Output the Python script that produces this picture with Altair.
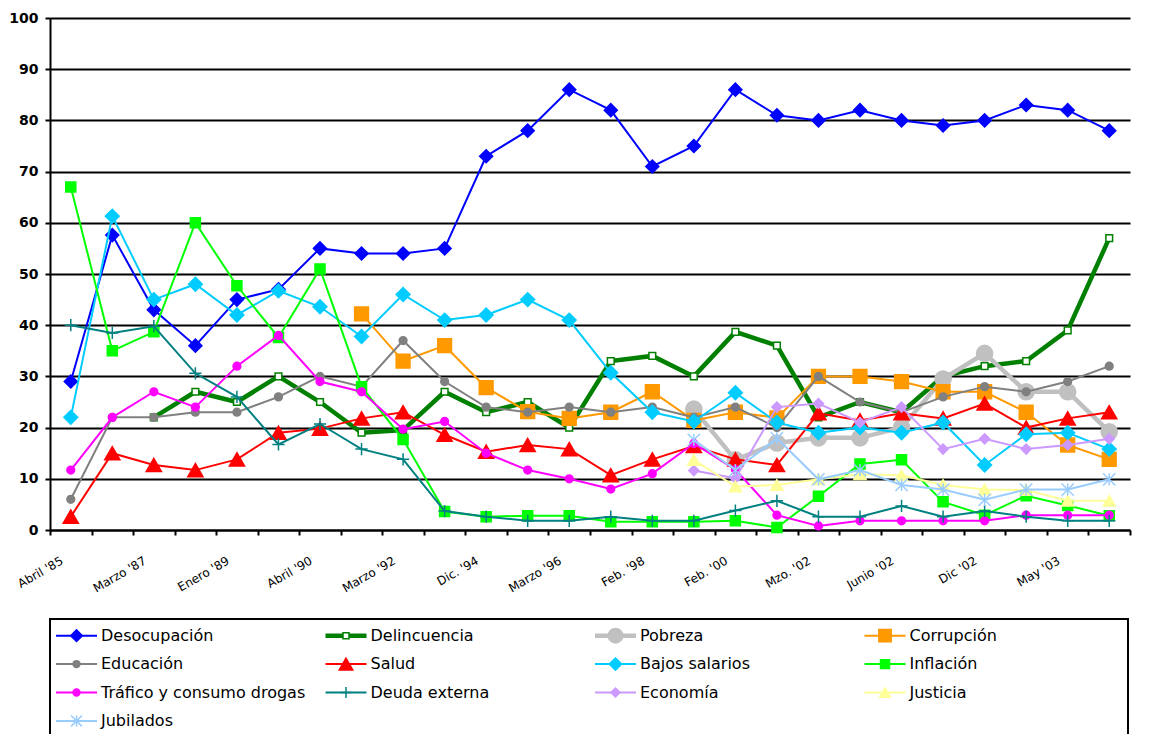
import json
import altair as alt
import pandas as pd

# ---------------- data ----------------
n_surveys = 26
# labels shown under every second survey
period_labels = ["Abril '85", "Marzo '87", "Enero '89", "Abril '90", "Marzo '92",
                 "Dic. '94", "Marzo '96", "Feb. '98", "Feb. '00", "Mzo. '02",
                 "Junio '02", "Dic '02", "May '03"]

series_names = ["Desocupación", "Delincuencia", "Pobreza", "Corrupción",
                "Educación", "Salud", "Bajos salarios", "Inflación",
                "Tráfico y consumo drogas", "Deuda externa", "Economía",
                "Justicia", "Jubilados"]

N = None
desocupacion = [29, 57.6, 43, 36, 45, 47, 55, 54, 54, 55, 73, 78, 86, 82, 71, 75,
                86, 81, 80, 82, 80, 79, 80, 83, 82, 78]
delincuencia = [N, N, 22, 27, 25, 30, 25, 19, 19.5, 27, 23, 25, 20, 33, 34, 30,
                38.7, 36, 22, 25, 23, 30, 32, 33, 39, 57]
pobreza = [N] * 15 + [23.6, 13.7, 17, 18, 18, 20, 29.5, 34.5, 27, 27, 19.2]
corrupcion = [N] * 7 + [42.2, 33, 36, 27.8, 23.1, 21.8, 23, 27, 21.4, 23, 21.9,
                        30, 30, 29, 27, 27, 23, 16.6, 13.8]
educacion = [6, 22, 22, 23, 23, 26, 30, 28, 37, 29, 24, 23, 24, 23, 24, 22, 24,
             20, 30, 25, 23, 26, 28, 27, 29, 32]
salud = [2.6, 15, 12.7, 11.7, 13.8, 19, 19.8, 21.8, 23, 18.6, 15.3, 16.6, 15.8,
         10.7, 13.8, 16.4, 13.8, 12.7, 22.8, 21.4, 22.8, 21.8, 24.7, 20, 21.8, 23]
bajos_salarios = [22, 61.3, 45, 48, 42, 46.7, 43.6, 37.8, 46, 41, 42, 45, 41, 30.7,
                  23, 21.2, 26.8, 21, 19, 20, 19, 21, 12.7, 18.7, 19, 15.8]
inflacion = [67, 35, 38.7, 60, 47.7, 37.6, 51, 28, 17.7, 3.6, 2.6, 2.8, 2.8, 1.6,
             1.6, 1.6, 1.8, 0.5, 6.6, 12.9, 13.7, 5.5, 2.9, 6.7, 4.8, 2.8]
trafico = [11.7, 22, 27, 24, 32, 38, 29, 27, 19.7, 21.2, 15, 11.7, 10, 8, 11, 16.9,
           11.8, 2.9, 0.8, 1.8, 1.8, 1.8, 1.8, 2.9, 2.9, 2.9]
deuda_externa = [40, 38.5, 39.8, 30.6, 26, 16.7, 20.7, 15.8, 13.8, 3.7, 2.6, 1.8,
                 1.8, 2.6, 1.8, 1.8, 3.8, 5.7, 2.6, 2.6, 4.7, 2.6, 3.7, 2.6, 1.8, 1.8]
economia = [N] * 15 + [11.6, 10.1, 24, 24.7, 21, 24, 15.8, 17.8, 15.8, 16.6, 17.8]
justicia = [N] * 15 + [13.7, 8.5, 8.8, 9.9, 10.9, 10.7, 8.8, 7.9, 7.8, 5.7, 5.7]
jubilados = [N] * 15 + [17.6, 11.7, 17.9, 9.9, 11.7, 8.8, 7.9, 5.9, 7.9, 7.9, 9.9]

series_values = [desocupacion, delincuencia, pobreza, corrupcion, educacion, salud,
                 bajos_salarios, inflacion, trafico, deuda_externa, economia,
                 justicia, jubilados]

# ---------------- styles ----------------
PLUS = "M-1,0H1M0,-1V1"
STAR = "M-1,-1L1,1M-1,1L1,-1M0,-1V1"
styles = {
    "Desocupación": dict(color="#0000FF", width=2, shape="diamond", size=170, fill="#0000FF"),
    "Delincuencia": dict(color="#008000", width=4.5, shape="square", size=45, fill="#FFFFFF"),
    "Pobreza": dict(color="#C0C0C0", width=4.5, shape="circle", size=260, fill="#C0C0C0"),
    "Corrupción": dict(color="#FF9900", width=2, shape="square", size=190, fill="#FF9900"),
    "Educación": dict(color="#808080", width=2, shape="circle", size=60, fill="#808080"),
    "Salud": dict(color="#FF0000", width=2, shape="triangle-up", size=230, fill="#FF0000"),
    "Bajos salarios": dict(color="#00CCFF", width=2, shape="diamond", size=190, fill="#00CCFF"),
    "Inflación": dict(color="#00FF00", width=2, shape="square", size=100, fill="#00FF00"),
    "Tráfico y consumo drogas": dict(color="#FF00FF", width=2, shape="circle", size=60, fill="#FF00FF"),
    "Deuda externa": dict(color="#008080", width=2, shape=PLUS, size=150, fill="#008080"),
    "Economía": dict(color="#CC99FF", width=2, shape="diamond", size=100, fill="#CC99FF"),
    "Justicia": dict(color="#FFFF99", width=2, shape="triangle-up", size=150, fill="#FFFF99"),
    "Jubilados": dict(color="#99CCFF", width=2, shape=STAR, size=150, fill="#99CCFF"),
}

rows = []
for name, vals in zip(series_names, series_values):
    for i, v in enumerate(vals):
        if v is not None:
            rows.append({"serie": name, "i": i, "valor": v})
df = pd.DataFrame(rows)

FONT = "DejaVu Sans"
label_expr = ("datum.value % 2 == 0 && datum.value < " + str(n_surveys) + " ? "
              + json.dumps(period_labels, ensure_ascii=False)
              + "[datum.value / 2] : ''")

x_enc = alt.X(
    "pos:Q",
    scale=alt.Scale(domain=[0, n_surveys], nice=False, zero=False),
    axis=alt.Axis(values=list(range(n_surveys + 1)), labelExpr=label_expr, title=None,
                  grid=False, tickSize=5, tickColor="black", tickWidth=2,
                  domainColor="black", domainWidth=2, labelAngle=-30,
                  labelAlign="right", labelBaseline="top", labelOffset=9,
                  labelPadding=20, labelFont=FONT, labelFontSize=12,
                  labelColor="black", labelOverlap=False, labelFlush=False),
)
y_enc = alt.Y(
    "valor:Q",
    scale=alt.Scale(domain=[0, 100], nice=False, zero=True),
    axis=alt.Axis(values=list(range(0, 101, 10)), title=None, grid=True,
                  gridColor="black", gridWidth=2, gridOpacity=1,
                  domainColor="black", domainWidth=2, tickSize=5, tickColor="black",
                  tickWidth=2, labelFont=FONT, labelFontSize=14, labelFontWeight="bold",
                  labelPadding=7, labelColor="black"),
)

layers = []
for name in series_names:
    st = styles[name]
    base = alt.Chart(df).transform_filter(alt.datum.serie == name).transform_calculate(
        pos="datum.i + 0.5")
    line = base.mark_line(color=st["color"], strokeWidth=st["width"]).encode(x=x_enc, y=y_enc)
    pts = base.mark_point(shape=st["shape"], size=st["size"], filled=True, fill=st["fill"],
                          stroke=st["color"], strokeWidth=1.5, opacity=1).encode(x=x_enc, y=y_enc)
    layers += [line, pts]

main = alt.layer(*layers).properties(
    width=1080, height=512, view=alt.ViewBackground(strokeOpacity=0))

# ---------------- legend (built from the series list) ----------------
leg_df = pd.DataFrame({
    "serie": series_names,
    "col": [k % 4 for k in range(len(series_names))],
    "row": [k // 4 for k in range(len(series_names))],
})
LEG_W, LEG_H, ROW_STEP, ROW0 = 1078, 130, 28.4, 16.7
lx = alt.X("col:Q", scale=alt.Scale(domain=[0, 4], nice=False, zero=False), axis=None)
ly = alt.Y("row:Q", scale=alt.Scale(domain=[0, LEG_H / ROW_STEP], nice=False, zero=False,
                                     reverse=True), axis=None)
leg_layers = []
for name in series_names:
    st = styles[name]
    b = alt.Chart(leg_df).transform_filter(alt.datum.serie == name)
    leg_layers.append(b.mark_rule(color=st["color"], strokeWidth=st["width"], xOffset=6,
                                  x2Offset=47, yOffset=ROW0).encode(x=lx, x2="col", y=ly))
    leg_layers.append(b.mark_point(shape=st["shape"], size=st["size"] * 0.8, filled=True,
                                   fill=st["fill"], stroke=st["color"], strokeWidth=1.5,
                                   opacity=1, xOffset=26.5, yOffset=ROW0).encode(x=lx, y=ly))
leg_layers.append(alt.Chart(leg_df).mark_text(align="left", baseline="middle", xOffset=51,
                                              yOffset=ROW0, font=FONT, fontSize=16,
                                              color="black").encode(x=lx, y=ly, text="serie:N"))
legend = alt.layer(*leg_layers).properties(
    width=LEG_W, height=LEG_H,
    view=alt.ViewBackground(stroke="black", strokeWidth=2, fill="white"))

chart = alt.vconcat(main, legend, spacing=24).properties(
    padding={"left": 0, "top": 3, "right": 0, "bottom": 0},
    background="white")

chart.save("out.html", embed_options={"renderer": "svg", "actions": False})
